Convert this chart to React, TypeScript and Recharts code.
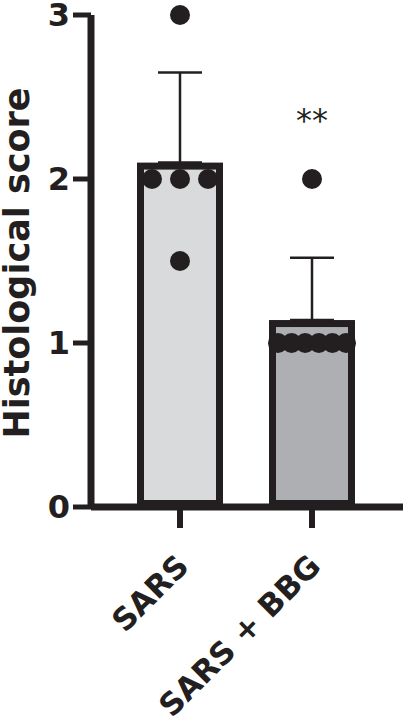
import { ComposedChart, Bar, Cell, ErrorBar, Scatter, XAxis, YAxis, ReferenceDot } from 'recharts'

const CATEGORIES = ['SARS', 'SARS + BBG']
const MEANS = [2.1, 1.14]
const SDS = [0.55, 0.38]
const SARS_SCORES = [3, 2, 2, 2, 1.5]
const BBG_SCORES = [2, 1, 1, 1, 1, 1, 1]
const Y_TICKS = [0, 1, 2, 3]
const SIG_LABEL = '**'
const SIG_Y = 2.29

const INK = '#231f20'
const FILLS = ['#d9dadc', '#aeafb2']
const FONT = '"DejaVu Sans", sans-serif'

const W = 403
const H = 719
const Y_AXIS_W = 91
const X_AXIS_H = 212
const PAD_L = 23
const PAD_R = 25
const BAND = (W - Y_AXIS_W - PAD_L - PAD_R) / 2
const BAR_SW = 7

// numeric axis for the dots, lined up with the category bands
const NUM_MIN = -(PAD_L + BAND / 2) / BAND
const NUM_MAX = NUM_MIN + (W - Y_AXIS_W) / BAND

const barData = CATEGORIES.map((cat, i) => ({ cat, mean: MEANS[i], err: [0, SDS[i]] }))

// spread equal values side by side, like a GraphPad scatter-on-bar
function spread(scores: number[], groupIndex: number) {
  const counts: Record<string, number> = {}
  scores.forEach((s) => (counts[s] = (counts[s] || 0) + 1))
  const seen: Record<string, number> = {}
  return scores.map((s) => {
    const n = counts[s]
    const k = seen[s] || 0
    seen[s] = k + 1
    const step = n > 1 ? Math.min(28, 68 / (n - 1)) : 0
    const dx = (k - (n - 1) / 2) * step
    return { x: groupIndex + dx / BAND, score: s }
  })
}

const points = [...spread(SARS_SCORES, 0), ...spread(BBG_SCORES, 1)]

const InsetBar = (p: any) => (
  <rect
    x={p.x + BAR_SW / 2}
    y={p.y + BAR_SW / 2}
    width={p.width - BAR_SW}
    height={p.height - BAR_SW}
    fill={p.fill}
    stroke={INK}
    strokeWidth={BAR_SW}
  />
)

const XTick = ({ x, y, payload }: any) => {
  const ax = x + 10.5
  const ay = y + 40
  return (
    <text
      x={ax}
      y={ay}
      transform={`rotate(-45 ${ax} ${ay})`}
      textAnchor="end"
      fontFamily={FONT}
      fontWeight="bold"
      fontSize={31}
      fill={INK}
    >
      {payload.value}
    </text>
  )
}

const YLabel = ({ viewBox }: any) => {
  const cx = 29
  const cy = viewBox.y + viewBox.height / 2 + 2
  return (
    <text
      x={cx}
      y={cy}
      transform={`rotate(-90 ${cx} ${cy})`}
      textAnchor="middle"
      fontFamily={FONT}
      fontWeight="bold"
      fontSize={35}
      fill={INK}
    >
      Histological score
    </text>
  )
}

export default function App() {
  return (
    <div style={{ position: 'absolute', left: 0, top: 0, width: W, height: H, background: '#fff' }}>
      <ComposedChart width={W} height={H} data={barData} margin={{ top: 15, right: 0, bottom: 0, left: 0 }}>
        <XAxis
          dataKey="cat"
          height={X_AXIS_H}
          padding={{ left: PAD_L, right: PAD_R }}
          interval={0}
          tickSize={21}
          tickMargin={0}
          axisLine={{ stroke: INK, strokeWidth: 7 }}
          tickLine={{ stroke: INK, strokeWidth: 6 }}
          tick={<XTick />}
        />
        <XAxis xAxisId="pts" type="number" dataKey="x" domain={[NUM_MIN, NUM_MAX]} allowDataOverflow hide />
        <YAxis
          width={Y_AXIS_W}
          domain={[0, 3]}
          ticks={Y_TICKS}
          interval={0}
          tickSize={18}
          tickMargin={3}
          axisLine={{ stroke: INK, strokeWidth: 7 }}
          tickLine={{ stroke: INK, strokeWidth: 5 }}
          tick={{ fontFamily: FONT, fontWeight: 'bold', fontSize: 32, fill: INK }}
          label={<YLabel />}
        />
        <Bar dataKey="mean" barSize={86} shape={<InsetBar />} isAnimationActive={false}>
          {barData.map((_, i) => (
            <Cell key={i} fill={FILLS[i]} />
          ))}
          <ErrorBar dataKey="err" direction="y" width={22} stroke={INK} strokeWidth={2.5} />
        </Bar>
        <Scatter
          xAxisId="pts"
          data={points}
          dataKey="score"
          fill={INK}
          isAnimationActive={false}
          shape={(p: any) => <circle cx={p.cx} cy={p.cy} r={10} fill={INK} />}
        />
        <ReferenceDot
          x={CATEGORIES[1]}
          y={SIG_Y}
          r={0}
          shape={(p: any) => (
            <text x={p.cx} y={p.cy} textAnchor="middle" fontFamily={FONT} fontSize={32} fill={INK}>
              {SIG_LABEL}
            </text>
          )}
        />
      </ComposedChart>
    </div>
  )
}
